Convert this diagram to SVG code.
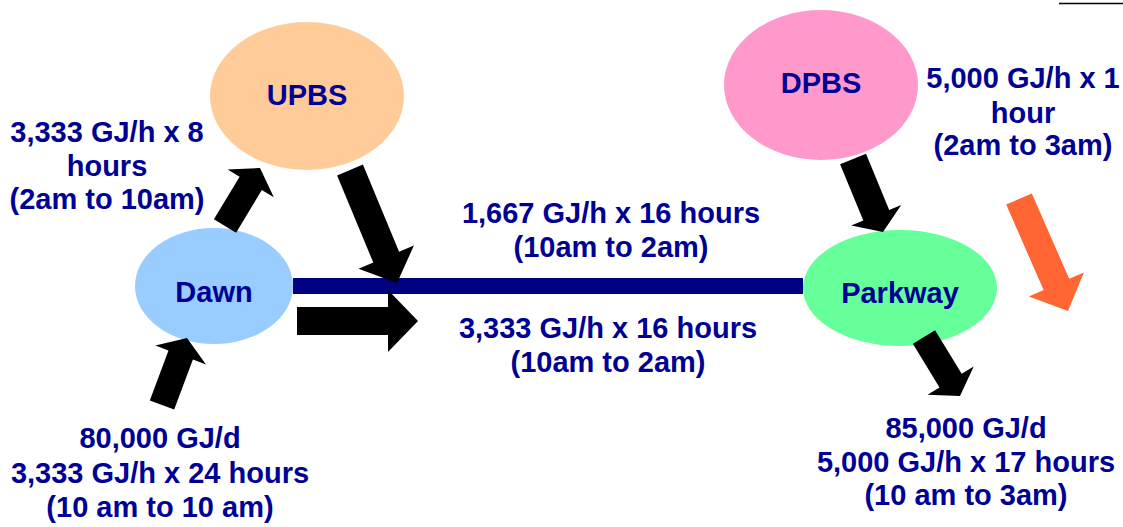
<svg xmlns="http://www.w3.org/2000/svg" width="1123" height="527" viewBox="0 0 1123 527">
<style>
text{font-family:"Liberation Sans",Arial,sans-serif;font-weight:bold;font-size:29px;fill:#000094;text-anchor:middle}
.arrow{fill:#000000}
.orange{fill:#FF6633}
</style>
<rect width="1123" height="527" fill="#ffffff"/>
<line x1="1059" y1="3.5" x2="1123" y2="3.5" stroke="#000" stroke-width="1.5"/>
<g id="node-upbs">
<ellipse cx="307" cy="96" rx="97" ry="74" fill="#FFCC99"/>
<text x="307" y="105">UPBS</text>
</g>
<g id="node-dpbs">
<ellipse cx="821" cy="85" rx="97" ry="75" fill="#FF99CC"/>
<text x="821" y="93">DPBS</text>
</g>
<g id="node-dawn">
<ellipse cx="214" cy="286" rx="79" ry="58" fill="#99CCFF"/>
<text x="214" y="302">Dawn</text>
</g>
<g id="node-parkway">
<ellipse cx="900" cy="288" rx="97" ry="58" fill="#66FF99"/>
<text x="900" y="303">Parkway</text>
</g>
<g id="connectors">
<rect x="293" y="278" width="510" height="16" fill="#000080"/>
<polygon class="arrow" points="213.9,219.3 239.6,176.7 227.6,169.5 260,168 273.8,197.3 261.8,190.1 236.1,232.7"/>
<polygon class="arrow" points="337.1,175.4 373.3,262.6 358.5,268.8 397,283 413.9,245.6 399.1,251.8 362.9,164.6"/>
<polygon class="arrow" points="297,307 388,307 388,290 418,321 388,352 388,335 297,335"/>
<polygon class="arrow" points="149.8,400.5 168.5,350.4 155.4,345.5 187,338 206,364.4 192.9,359.4 174.2,409.6"/>
<polygon class="arrow" points="840.1,164.3 863.3,220.6 851.2,225.6 883,232 901.2,205 889.2,210 866,153.7"/>
<polygon class="orange" points="1006.2,204.6 1043.6,290 1028.9,296.4 1068,311 1083.9,272.4 1069.2,278.8 1031.8,193.4"/>
<polygon class="arrow" points="912.9,343.8 939.5,387.4 927.5,394.7 960,396 973.7,366.5 961.7,373.8 935.1,330.2"/>
</g>
<g id="labels">
<text x="107" y="142">3,333 GJ/h x 8</text>
<text x="107" y="176">hours</text>
<text x="107" y="209">(2am to 10am)</text>
<text x="611" y="223">1,667 GJ/h x 16 hours</text>
<text x="611" y="257">(10am to 2am)</text>
<text x="608" y="338">3,333 GJ/h x 16 hours</text>
<text x="608" y="372">(10am to 2am)</text>
<text x="160" y="448">80,000 GJ/d</text>
<text x="160" y="483">3,333 GJ/h x 24 hours</text>
<text x="160" y="517">(10 am to 10 am)</text>
<text x="966" y="438">85,000 GJ/d</text>
<text x="966" y="472">5,000 GJ/h x 17 hours</text>
<text x="966" y="505">(10 am to 3am)</text>
<text x="1023" y="88">5,000 GJ/h x 1</text>
<text x="1023" y="123">hour</text>
<text x="1023" y="155">(2am to 3am)</text>
</g>
</svg>
